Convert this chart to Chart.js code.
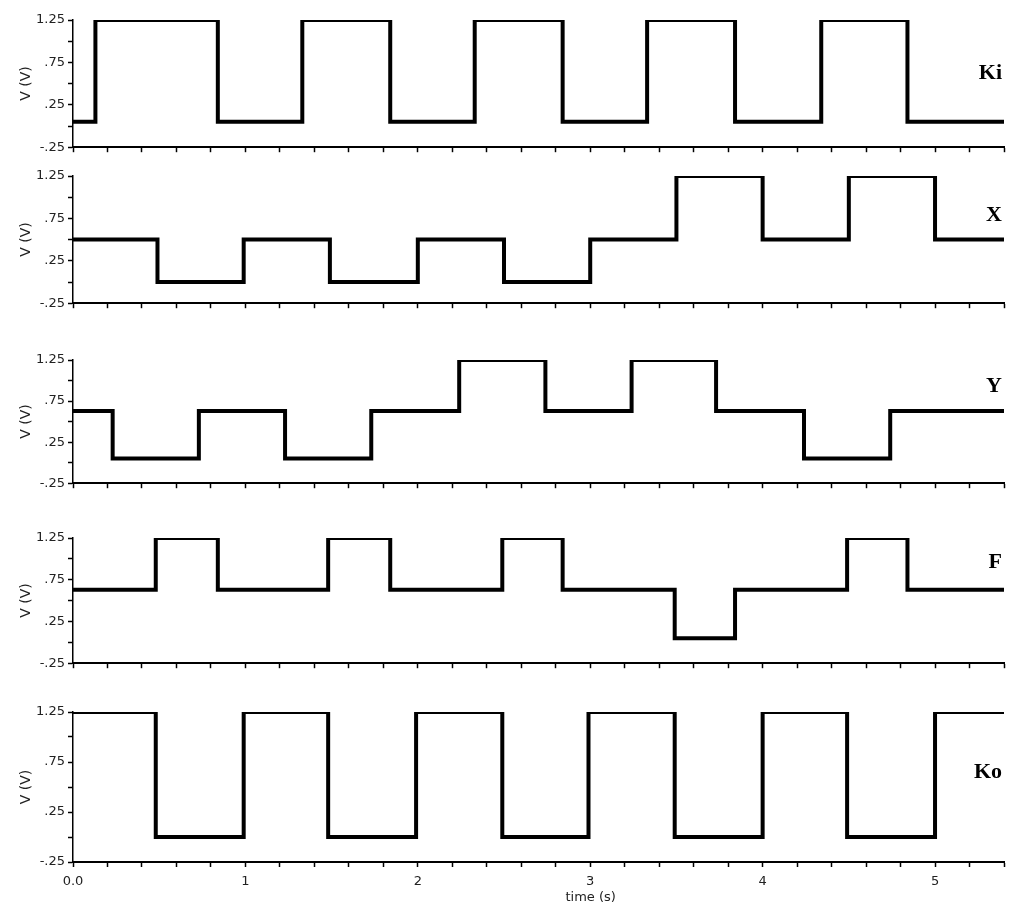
<!DOCTYPE html>
<html>
<head>
<meta charset="utf-8">
<script src="https://cdn.jsdelivr.net/npm/chart.js@4/dist/chart.umd.min.js"></script>
<style>
  body { margin: 0; background: #fff; }
  #wrap { position: relative; width: 1024px; height: 914px; }
  #wrap canvas { position: absolute; left: 0; }
</style>
</head>
<body>
<div id="wrap"></div>
<script>
// transition times (s) and levels (V) of each signal
var kiTimes = [0, 0.13, 0.84, 1.33, 1.84, 2.33, 2.84, 3.33, 3.84, 4.34, 4.84, 5.4];
var kiLevels = [0.05, 1.25, 0.05, 1.25, 0.05, 1.25, 0.05, 1.25, 0.05, 1.25, 0.05, 0.05];

var xTimes = [0, 0.49, 0.99, 1.49, 2.0, 2.5, 3.0, 3.5, 4.0, 4.5, 5.0, 5.4];
var xLevels = [0.5, 0, 0.5, 0, 0.5, 0, 0.5, 1.25, 0.5, 1.25, 0.5, 0.5];

var yTimes = [0, 0.23, 0.73, 1.23, 1.73, 2.24, 2.74, 3.24, 3.73, 4.24, 4.74, 5.4];
var yLevels = [0.63, 0.05, 0.63, 0.05, 0.63, 1.25, 0.63, 1.25, 0.63, 0.05, 0.63, 0.63];

var fTimes = [0, 0.48, 0.84, 1.48, 1.84, 2.49, 2.84, 3.49, 3.84, 4.49, 4.84, 5.4];
var fLevels = [0.63, 1.25, 0.63, 1.25, 0.63, 1.25, 0.63, 0.05, 0.63, 1.25, 0.63, 0.63];

var koTimes = [0, 0.48, 0.99, 1.48, 1.99, 2.49, 2.99, 3.49, 4.0, 4.49, 5.0, 5.4];
var koLevels = [1.25, 0, 1.25, 0, 1.25, 0, 1.25, 0, 1.25, 0, 1.25, 1.25];

var vTicks = [-0.25, 0, 0.25, 0.5, 0.75, 1, 1.25];
var vTickLabels = ['-.25', '', '.25', '', '.75', '', '1.25'];
var timeTickLabels = ['0.0', '1', '2', '3', '4', '5'];

// panel name, data, plot top/bottom in page pixels, label offset from plot top
var panels = [
    {name: 'Ki', times: kiTimes, levels: kiLevels, top: 20, bottom: 148, labelY: 53},
    {name: 'X', times: xTimes, levels: xLevels, top: 176, bottom: 304, labelY: 39},
    {name: 'Y', times: yTimes, levels: yLevels, top: 360, bottom: 484, labelY: 26},
    {name: 'F', times: fTimes, levels: fLevels, top: 538, bottom: 664, labelY: 24},
    {name: 'Ko', times: koTimes, levels: koLevels, top: 712, bottom: 862, labelY: 60}
];

var panelLabel = {
    id: 'panelLabel',
    afterDraw: function(chart, args, opts) {
        var ctx = chart.ctx, a = chart.chartArea;
        ctx.save();
        ctx.fillStyle = '#000';
        ctx.font = 'bold 22px "Liberation Serif"';
        ctx.textAlign = 'right';
        ctx.textBaseline = 'middle';
        ctx.fillText(opts.text, 1002, a.top + opts.y);
        if (opts.xTitle) {
            ctx.font = '13px "DejaVu Sans"';
            ctx.fillStyle = '#222';
            ctx.textAlign = 'center';
            ctx.fillText(opts.xTitle, a.left + (a.right - a.left) * 0.556, a.bottom + 36);
        }
        ctx.restore();
    }
};

var wrap = document.getElementById('wrap');
var padTop = 18;

panels.forEach(function(p, i) {
    var last = i === panels.length - 1;
    var canvasTop = p.top - padTop;
    var axisH = last ? 914 - p.bottom : 10;
    var canvasH = p.bottom - canvasTop + axisH;

    var cv = document.createElement('canvas');
    cv.width = 1024;
    cv.height = canvasH;
    cv.style.top = canvasTop + 'px';
    wrap.appendChild(cv);

    var pts = p.times.map(function(t, k) { return {x: t, y: p.levels[k]}; });

    new Chart(cv, {
        type: 'line',
        data: {
            datasets: [{
                label: p.name,
                data: pts,
                stepped: true,
                borderColor: '#000',
                borderWidth: 4,
                borderJoinStyle: 'miter',
                pointRadius: 0,
                fill: false
            }]
        },
        options: {
            responsive: false,
            animation: false,
            devicePixelRatio: 1,
            layout: {padding: {top: padTop, right: 20, left: 0, bottom: 0}},
            plugins: {
                legend: {display: false},
                tooltip: {enabled: false},
                panelLabel: {text: p.name, y: p.labelY, xTitle: last ? 'time (s)' : null}
            },
            scales: {
                x: {
                    type: 'linear',
                    min: 0,
                    max: 5.4,
                    afterFit: function(s) { s.height = axisH; },
                    border: {display: true, color: '#000', width: 2},
                    grid: {drawOnChartArea: false, drawTicks: true, tickLength: 5, tickColor: '#000', tickWidth: 1.5},
                    ticks: {
                        display: last,
                        stepSize: 0.2,
                        autoSkip: false,
                        maxRotation: 0,
                        padding: 7,
                        color: '#222',
                        font: {family: 'DejaVu Sans', size: 13},
                        callback: function(v) {
                            var r = Math.round(v);
                            return Math.abs(v - r) < 1e-6 && timeTickLabels[r] !== undefined ? timeTickLabels[r] : '';
                        }
                    }
                },
                y: {
                    min: -0.25,
                    max: 1.25,
                    afterFit: function(s) { s.width = 73; },
                    border: {display: true, color: '#000', width: 1.5, dash: [1.5, 2]},
                    grid: {drawOnChartArea: false, drawTicks: true, tickLength: 5, tickColor: '#000', tickWidth: 1.5},
                    title: {
                        display: true,
                        text: 'V (V)',
                        color: '#222',
                        font: {family: 'DejaVu Sans', size: 14},
                        padding: {top: 18, bottom: 0}
                    },
                    ticks: {
                        stepSize: 0.25,
                        padding: 3,
                        color: '#222',
                        font: {family: 'DejaVu Sans', size: 13},
                        callback: function(v) {
                            var k = vTicks.findIndex(function(t) { return Math.abs(t - v) < 1e-6; });
                            return k >= 0 ? vTickLabels[k] : '';
                        }
                    }
                }
            }
        },
        plugins: [panelLabel]
    });
});
</script>
</body>
</html>
